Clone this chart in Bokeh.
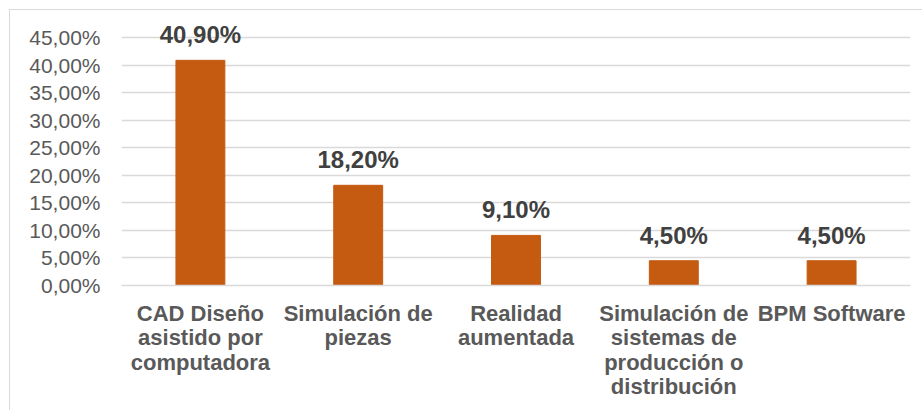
from bokeh.plotting import figure
from bokeh.models import ColumnDataSource, FixedTicker, Range1d, LabelSet
from bokeh.core.properties import value
from bokeh.embed import file_html
from bokeh.resources import INLINE

category_lines = [
    ["CAD Diseño", "asistido por", "computadora"],
    ["Simulación de", "piezas"],
    ["Realidad", "aumentada"],
    ["Simulación de", "sistemas de", "producción o", "distribución"],
    ["BPM Software"],
]
values = [40.9, 18.2, 9.1, 4.5, 4.5]
value_labels = ["40,90%", "18,20%", "9,10%", "4,50%", "4,50%"]
tick_values = [0, 5, 10, 15, 20, 25, 30, 35, 40, 45]
tick_labels = ["0,00%", "5,00%", "10,00%", "15,00%", "20,00%", "25,00%",
               "30,00%", "35,00%", "40,00%", "45,00%"]

categories = ["\n".join(ls) for ls in category_lines]

src = ColumnDataSource(dict(cat=categories, val=values, lab=value_labels))

FONT = "Liberation Sans"

p = figure(x_range=categories, y_range=Range1d(0, 48.5),
           width=912, height=400, output_backend="svg", toolbar_location=None,
           frame_width=789, frame_height=267,
           min_border_left=111, min_border_right=12, min_border_top=8,
           min_border_bottom=125)
p.styles = {"margin-left": "9px", "margin-top": "9px",
            "border-left": "1px solid #D9D9D9", "border-top": "1px solid #D9D9D9"}
p.outline_line_color = None
p.background_fill_color = "white"
p.border_fill_color = "white"

p.vbar(x="cat", top="val", width=0.31, source=src, color="#C55A11")

labels = LabelSet(x="cat", y="val", text="lab", source=src, text_align="center",
                  text_baseline="alphabetic", y_offset=17,
                  text_font=value(FONT), text_font_style="bold",
                  text_font_size="24px", text_color="#404040")
p.add_layout(labels)

p.xgrid.grid_line_color = None
p.ygrid.grid_line_color = "#D9D9D9"
p.ygrid.grid_line_width = 1.5
p.yaxis.ticker = FixedTicker(ticks=tick_values)
p.yaxis.major_label_overrides = {v: l for v, l in zip(tick_values, tick_labels)}
p.yaxis.axis_line_color = None
p.yaxis.major_tick_line_color = None
p.yaxis.minor_tick_line_color = None
p.yaxis.major_label_standoff = 15
p.yaxis.major_label_text_font = FONT
p.yaxis.major_label_text_font_size = "21px"
p.yaxis.major_label_text_color = "#595959"

p.xaxis.axis_line_color = "#D9D9D9"
p.xaxis.axis_line_width = 1.5
p.xaxis.major_tick_line_color = None
p.xaxis.minor_tick_line_color = None
p.xaxis.major_label_standoff = 9
p.xaxis.major_label_text_font = FONT
p.xaxis.major_label_text_font_style = "bold"
p.xaxis.major_label_text_font_size = "22px"
p.xaxis.major_label_text_color = "#595959"
p.xaxis.major_label_text_line_height = 0.98

open("out.html", "w").write(file_html(p, INLINE))
